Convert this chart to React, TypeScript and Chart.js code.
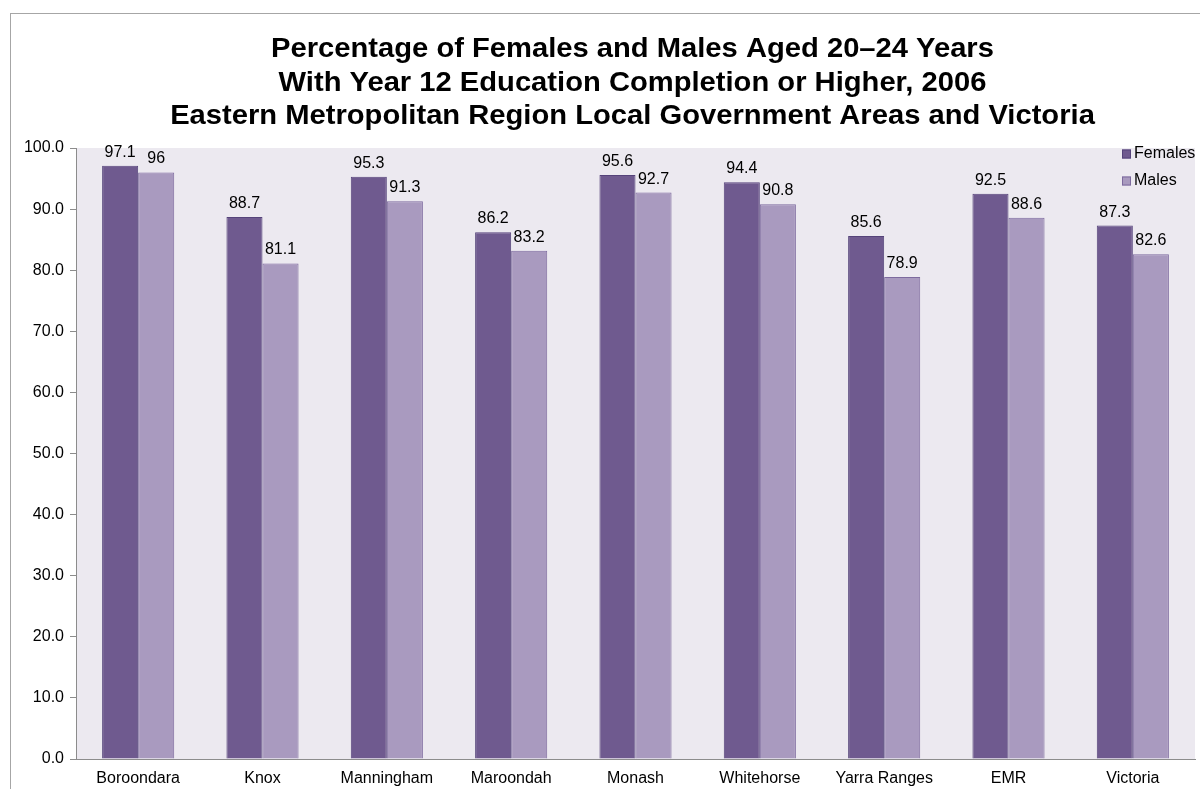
import React, { useEffect, useRef } from "react";
import { Chart, registerables } from "chart.js";

Chart.register(...registerables);

// Local government areas plus regional and state totals
const categories = [
  "Boroondara",
  "Knox",
  "Manningham",
  "Maroondah",
  "Monash",
  "Whitehorse",
  "Yarra Ranges",
  "EMR",
  "Victoria",
];

// Percentage with Year 12 completion or higher, aged 20–24, 2006
const femalesValues = [97.1, 88.7, 95.3, 86.2, 95.6, 94.4, 85.6, 92.5, 87.3];
const malesValues = [96, 81.1, 91.3, 83.2, 92.7, 90.8, 78.9, 88.6, 82.6];

const seriesNames = ["Females", "Males"];

const yMin = 0;
const yMax = 100;
const yStep = 10;

const titleLines = [
  "Percentage of Females and Males Aged 20–24 Years",
  "With Year 12 Education Completion or Higher, 2006",
  "Eastern Metropolitan Region Local Government Areas and Victoria",
];

const FONT = "Arial, 'Liberation Sans', sans-serif";
const FEMALE_FILL = "#6F5A8F";
const FEMALE_EDGE = "#55437A";
const MALE_FILL = "#A99ABF";
const MALE_EDGE = "#7D6A9E";
const PLOT_BG = "#ECE9F0";
const AXIS_GREY = "#8C8C8C";

// White page, thin outer frame and tinted plot area
const backdropPlugin = {
  id: "backdrop",
  beforeDraw(chart: any) {
    const { ctx, chartArea } = chart;
    ctx.save();
    ctx.fillStyle = "#FFFFFF";
    ctx.fillRect(0, 0, chart.width, chart.height);
    ctx.strokeStyle = "#A6A6A6";
    ctx.lineWidth = 1;
    ctx.strokeRect(10.5, 13.5, chart.width + 40, chart.height + 40);
    ctx.fillStyle = PLOT_BG;
    ctx.fillRect(
      chartArea.left,
      chartArea.top,
      chartArea.right - chartArea.left,
      chartArea.bottom - chartArea.top
    );
    ctx.restore();
  },
};

// Three-line bold heading centred over the plot area (slightly wide lettering)
const headingPlugin = {
  id: "heading",
  afterDraw(chart: any) {
    const { ctx, chartArea } = chart;
    const cx = (chartArea.left + chartArea.right) / 2 - 3;
    const baselines = [57, 90.5, 124];
    const widen = 1.08;
    ctx.save();
    ctx.fillStyle = "#000000";
    ctx.font = `bold 27px ${FONT}`;
    ctx.textAlign = "center";
    ctx.textBaseline = "alphabetic";
    ctx.translate(cx, 0);
    ctx.scale(widen, 1);
    titleLines.forEach((line, i) => ctx.fillText(line, 0, baselines[i]));
    ctx.restore();
  },
};

// Value printed above every bar
const valueLabelPlugin = {
  id: "valueLabels",
  afterDatasetsDraw(chart: any) {
    const { ctx } = chart;
    ctx.save();
    ctx.fillStyle = "#000000";
    ctx.font = `16px ${FONT}`;
    ctx.textAlign = "center";
    ctx.textBaseline = "alphabetic";
    chart.data.datasets.forEach((ds: any, di: number) => {
      const meta = chart.getDatasetMeta(di);
      meta.data.forEach((bar: any, i: number) => {
        ctx.fillText(String(ds.data[i]), bar.x, bar.y - 9);
      });
    });
    ctx.restore();
  },
};

// Legend boxes tucked into the top-right corner of the plot
const cornerLegendPlugin = {
  id: "cornerLegend",
  afterDraw(chart: any) {
    const { ctx, chartArea } = chart;
    const x = chartArea.right - 73;
    const rows = [chartArea.top + 6, chartArea.top + 33];
    ctx.save();
    ctx.font = `16px ${FONT}`;
    ctx.textAlign = "left";
    ctx.textBaseline = "middle";
    chart.data.datasets.forEach((ds: any, i: number) => {
      const cy = rows[i];
      ctx.fillStyle = ds.backgroundColor;
      ctx.fillRect(x, cy - 4.5, 9, 9);
      ctx.strokeStyle = ds.borderColor;
      ctx.lineWidth = 1;
      ctx.strokeRect(x + 0.5, cy - 4.5 + 0.5, 8, 8);
      ctx.fillStyle = "#000000";
      ctx.fillText(ds.label, x + 12, cy);
    });
    ctx.restore();
  },
};

export default function App() {
  const canvasRef = useRef<HTMLCanvasElement | null>(null);

  useEffect(() => {
    const canvas = canvasRef.current;
    if (!canvas) return;
    const chart = new Chart(canvas, {
      type: "bar",
      data: {
        labels: categories,
        datasets: [
          {
            label: seriesNames[0],
            data: femalesValues,
            backgroundColor: FEMALE_FILL,
            borderColor: FEMALE_EDGE,
            borderWidth: 1,
            borderSkipped: "bottom",
          },
          {
            label: seriesNames[1],
            data: malesValues,
            backgroundColor: MALE_FILL,
            borderColor: MALE_EDGE,
            borderWidth: 1,
            borderSkipped: "bottom",
          },
        ],
      },
      options: {
        responsive: false,
        animation: false,
        devicePixelRatio: 1,
        layout: { padding: { left: 0, right: 5, top: 148, bottom: 0 } },
        datasets: {
          bar: { categoryPercentage: 0.58, barPercentage: 1 },
        },
        plugins: {
          legend: { display: false },
          title: { display: false },
          tooltip: { enabled: false },
        },
        scales: {
          x: {
            afterFit(scale: any) {
              scale.height = 30;
            },
            grid: { display: false, drawTicks: false },
            border: { display: true, color: AXIS_GREY, width: 1 },
            ticks: {
              color: "#000000",
              font: { family: FONT, size: 16 },
              padding: 10,
              maxRotation: 0,
              autoSkip: false,
            },
          },
          y: {
            min: yMin,
            max: yMax,
            afterFit(scale: any) {
              scale.width = 76;
            },
            grid: {
              drawOnChartArea: false,
              drawTicks: true,
              tickLength: 6,
              color: AXIS_GREY,
            },
            border: { display: true, color: AXIS_GREY, width: 1 },
            ticks: {
              stepSize: yStep,
              color: "#000000",
              font: { family: FONT, size: 16 },
              padding: 6,
              callback: (v: any) => Number(v).toFixed(1),
            },
          },
        },
      },
      plugins: [backdropPlugin, valueLabelPlugin, headingPlugin, cornerLegendPlugin],
    });
    return () => chart.destroy();
  }, []);

  return (
    <div
      style={{
        position: "absolute",
        left: 0,
        top: 0,
        width: 1200,
        height: 789,
        overflow: "hidden",
        background: "#FFFFFF",
      }}
    >
      <canvas ref={canvasRef} width={1200} height={789} />
    </div>
  );
}
